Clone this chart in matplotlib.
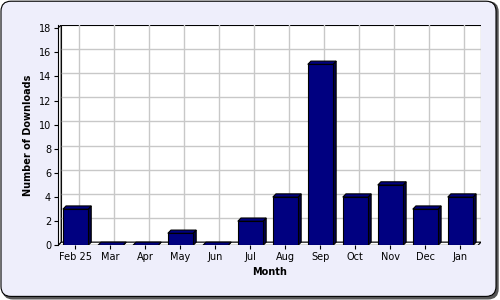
import matplotlib
matplotlib.use("Agg")
import matplotlib.pyplot as plt
from matplotlib.patches import FancyBboxPatch, Polygon, Rectangle

months = ["Feb 25", "Mar", "Apr", "May", "Jun", "Jul", "Aug", "Sep", "Oct", "Nov", "Dec", "Jan"]
downloads = [3, 0, 0, 1, 0, 2, 4, 15, 4, 5, 3, 4]
yticks = [0, 2, 4, 6, 8, 10, 12, 14, 16, 18]

fig = plt.figure(figsize=(5, 3), dpi=100)
fig.patch.set_facecolor("white")

# rounded lavender frame with a dark shadow at bottom right (drawn under the axes)
shadow = FancyBboxPatch((0.006, 0.004), 0.99, 0.99, boxstyle="round,pad=0,rounding_size=0.02",
                        transform=fig.transFigure, facecolor="#555555", edgecolor="#555555",
                        linewidth=1, mutation_aspect=5 / 3, zorder=-11)
frame = FancyBboxPatch((0.002, 0.012), 0.99, 0.984, boxstyle="round,pad=0,rounding_size=0.02",
                       transform=fig.transFigure, facecolor="#eeeefb", edgecolor="black",
                       linewidth=0.8, mutation_aspect=5 / 3, zorder=-10)
fig.patches.extend([shadow, frame])

ax = fig.add_axes([0.116, 0.182, 0.846, 0.735])
ax.set_facecolor("none")

# 3d offsets (about 3 px)
dx = 0.09
dy = 0.27
w = 0.72

ax.set_xlim(-0.5, 11.5 + dx)
ax.set_ylim(0, 18 + dy)

# back wall
ax.add_patch(Rectangle((-0.5 + dx, dy), 12, 18, facecolor="white", edgecolor="black", lw=0.8, zorder=0))
for v in yticks[1:-1]:
    ax.plot([-0.5 + dx, 11.5 + dx], [v + dy, v + dy], color="#c8c8c8", lw=1, zorder=1)
for i in range(len(months)):
    ax.plot([i + dx, i + dx], [dy, 18 + dy], color="#c8c8c8", lw=1, zorder=1)
# floor
ax.add_patch(Polygon([(-0.5, 0), (11.5, 0), (11.5 + dx, dy), (-0.5 + dx, dy)],
                     facecolor="white", edgecolor="black", lw=0.8, zorder=2))
# left wall
ax.add_patch(Polygon([(-0.5, 0), (-0.5 + dx, dy), (-0.5 + dx, 18 + dy), (-0.5, 18)],
                     facecolor="white", edgecolor="black", lw=0.8, zorder=2))

# bars
for i, v in enumerate(downloads):
    x0 = i - w / 2
    x1 = i + w / 2
    ax.add_patch(Polygon([(x1, 0), (x1 + dx, dy), (x1 + dx, v + dy), (x1, v)],
                         facecolor="#00004a", edgecolor="black", lw=0.8, zorder=3))
    ax.add_patch(Polygon([(x0, v), (x0 + dx, v + dy), (x1 + dx, v + dy), (x1, v)],
                         facecolor="#000080", edgecolor="black", lw=0.8, zorder=3))
    ax.add_patch(Rectangle((x0, 0), w, v, facecolor="#000080", edgecolor="black", lw=0.8, zorder=4))

for s in ["top", "right", "bottom"]:
    ax.spines[s].set_visible(False)
ax.spines["left"].set_linewidth(0.8)
ax.spines["left"].set_zorder(5)

ax.set_yticks(yticks)
ax.set_xticks(range(len(months)))
ax.set_xticklabels(months)
ax.tick_params(axis="both", labelsize=7, length=3, width=0.8, pad=2)
ax.set_xlabel("Month", fontsize=7, fontweight="bold", labelpad=3)
ax.set_ylabel("Number of Downloads", fontsize=7, fontweight="bold", labelpad=4)

fig.savefig("out.png", dpi=100, facecolor=fig.get_facecolor())
